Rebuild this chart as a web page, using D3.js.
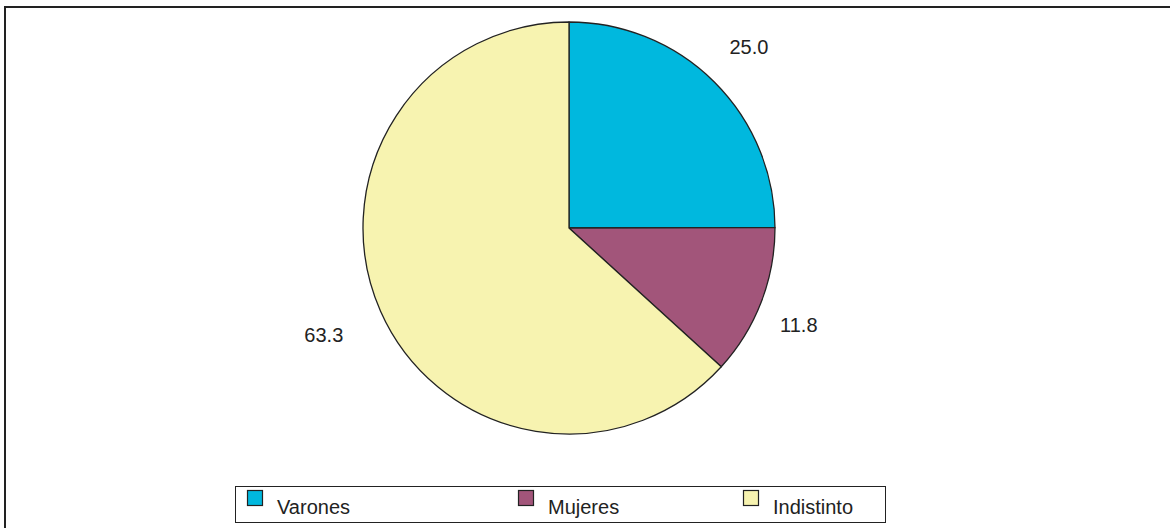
<!DOCTYPE html>
<html><head><meta charset="utf-8">
<script src="https://cdn.jsdelivr.net/npm/d3@7"></script>
<style>html,body{margin:0;padding:0;background:#fff;overflow:hidden}svg{display:block}</style>
</head><body>
<svg id="c" width="1170" height="528"></svg>
<script>
const categories = ["Varones", "Mujeres", "Indistinto"];
const values = [25.0, 11.8, 63.3];
const labels = ["25.0", "11.8", "63.3"];
const colors = ["#00b8de", "#a2557a", "#f7f3b0"];

const svg = d3.select("#c");
const font = "Liberation Sans, Arial, sans-serif";

// outer frame (top and left visible)
svg.append("path").attr("d", "M5,528 L5,7 L1170,7").attr("fill", "none").attr("stroke", "#222").attr("stroke-width", 2);

const cx = 569, cy = 228, r = 206;
const g = svg.append("g").attr("transform", `translate(${cx},${cy})`);
const data = categories.map((c, i) => ({ cat: c, v: values[i], lab: labels[i], col: colors[i] }));
const pie = d3.pie().value(d => d.v).sort(null);
const arcs = pie(data);
const arc = d3.arc().innerRadius(0).outerRadius(r);
const labelArc = d3.arc().innerRadius(256).outerRadius(256);

g.selectAll("path.s").data(arcs).join("path")
  .attr("d", arc).attr("fill", d => d.data.col)
  .attr("stroke", "#222").attr("stroke-width", 1.3).attr("stroke-linejoin", "round");

// layout nudges for label placement
const lblOffsets = [[-1, 0], [-9, 5], [-11, 4]];
g.selectAll("text.l").data(arcs).join("text")
  .attr("x", (d, i) => labelArc.centroid(d)[0] + lblOffsets[i][0])
  .attr("y", (d, i) => labelArc.centroid(d)[1] + lblOffsets[i][1])
  .attr("dy", "0.35em").attr("text-anchor", "middle")
  .attr("font-family", font).attr("font-size", 20).attr("fill", "#222")
  .text(d => d.data.lab);

// legend
const lg = svg.append("g");
lg.append("rect").attr("x", 235.5).attr("y", 486.5).attr("width", 650).attr("height", 36)
  .attr("fill", "#fff").attr("stroke", "#222").attr("stroke-width", 1);
const legendX = [247, 518, 743]; // layout positions of legend items
const items = lg.selectAll("g.i").data(data).join("g").attr("transform", (d, i) => `translate(${legendX[i]},0)`);
items.append("rect").attr("x", 0.5).attr("y", 490.5).attr("width", 15).attr("height", 15)
  .attr("fill", d => d.col).attr("stroke", "#222").attr("stroke-width", 1.2);
items.append("text").attr("x", 30).attr("y", 514).attr("font-family", font).attr("font-size", 20)
  .attr("fill", "#222").text(d => d.cat);
</script>
</body></html>
